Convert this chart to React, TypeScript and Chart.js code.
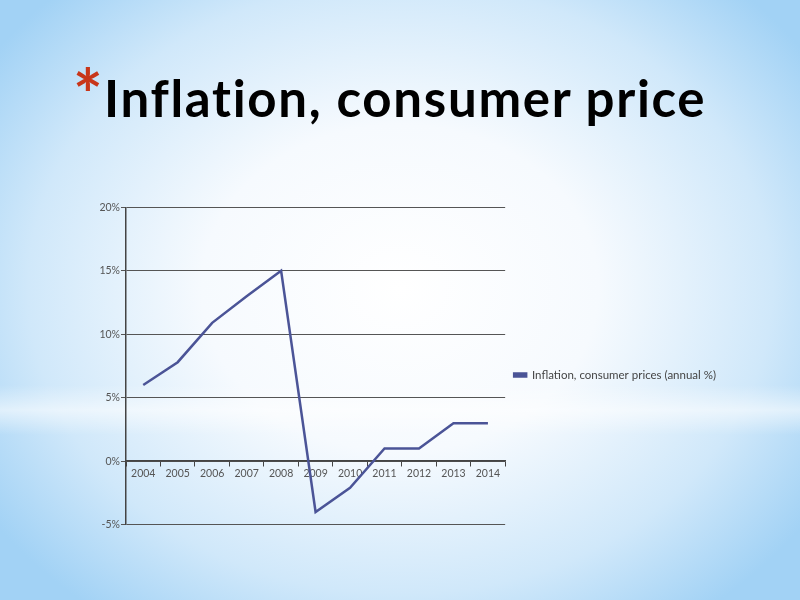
import React, { useEffect, useRef } from "react";
import { Chart, registerables } from "chart.js";

Chart.register(...registerables);

const years = ["2004", "2005", "2006", "2007", "2008", "2009", "2010", "2011", "2012", "2013", "2014"];
const inflation = [6, 7.8, 10.9, 13, 15, -4, -2.1, 1, 1, 3, 3];
const seriesLabel = "Inflation, consumer prices (annual %)";
const yMin = -5;
const yMax = 20;
const yStep = 5;

export default function App() {
  const canvasRef = useRef<HTMLCanvasElement | null>(null);

  useEffect(() => {
    if (!canvasRef.current) return;
    const chart = new Chart(canvasRef.current, {
      type: "line",
      data: {
        labels: years,
        datasets: [
          {
            label: seriesLabel,
            data: inflation,
            borderColor: "#4b5497",
            backgroundColor: "#4b5497",
            borderWidth: 2.5,
            pointRadius: 0,
            tension: 0,
          },
        ],
      },
      options: {
        animation: false,
        responsive: false,
        maintainAspectRatio: false,
        layout: { padding: { top: 0, right: 0, bottom: 0, left: 0 } },
        plugins: {
          tooltip: { enabled: false },
          legend: {
            position: "right",
            maxWidth: 280,
            title: {
              display: true,
              text: " ",
              padding: 3,
              font: { family: "Lato", size: 10 },
            },
            labels: {
              boxWidth: 12,
              boxHeight: 3,
              padding: 9,
              color: "#444",
              font: { family: "Lato", size: 11.5 },
            },
          },
        },
        scales: {
          x: {
            type: "category",
            position: { y: 0 } as any,
            offset: true,
            grid: {
              display: true,
              offset: true,
              drawOnChartArea: false,
              drawTicks: true,
              tickLength: 5,
              color: "#444",
            },
            border: { display: true, color: "#444", width: 1.5 },
            ticks: {
              color: "#555",
              font: { family: "Lato", size: 10.5 },
              padding: 1,
              maxRotation: 0,
              autoSkip: false,
            },
          },
          y: {
            min: yMin,
            max: yMax,
            afterFit: (scale: any) => {
              scale.width = 46;
            },
            grid: {
              color: "#555",
              lineWidth: 1,
              tickLength: 5,
            },
            border: { display: true, color: "#444", width: 1.5 },
            ticks: {
              stepSize: yStep,
              color: "#555",
              padding: 1,
              font: { family: "Lato", size: 10.5 },
              callback: (v: any) => v + "%",
            },
          },
        },
      },
    });
    return () => chart.destroy();
  }, []);

  return (
    <div
      style={{
        position: "fixed",
        left: 0,
        top: 0,
        width: 800,
        height: 600,
        overflow: "hidden",
        background:
          "radial-gradient(ellipse 62% 68% at 50% 48%, #ffffff 0%, #f6fafe 40%, #d0e8fa 75%, #a2d2f5 100%)",
      }}
    >
      <div
        style={{
          position: "absolute",
          left: 0,
          top: 385,
          width: 800,
          height: 50,
          background:
            "linear-gradient(to bottom, rgba(255,255,255,0) 0%, rgba(255,255,255,0.55) 50%, rgba(255,255,255,0) 100%)",
        }}
      />
      <div
        style={{
          position: "absolute",
          left: 73,
          top: 59,
          fontFamily: "Lato",
          fontWeight: 700,
          fontSize: 70,
          color: "#c8361a",
          lineHeight: "70px",
        }}
      >
        *
      </div>
      <div
        style={{
          position: "absolute",
          left: 104,
          top: 68,
          fontFamily: "Lato",
          fontWeight: 700,
          fontSize: 51,
          letterSpacing: "1.7px",
          color: "#000",
          lineHeight: "60px",
          whiteSpace: "nowrap",
        }}
      >
        Inflation, consumer price
      </div>
      <div style={{ position: "absolute", left: 80, top: 200, width: 646, height: 332 }}>
        <canvas ref={canvasRef} width={646} height={332} style={{ width: 646, height: 332 }} />
      </div>
    </div>
  );
}
